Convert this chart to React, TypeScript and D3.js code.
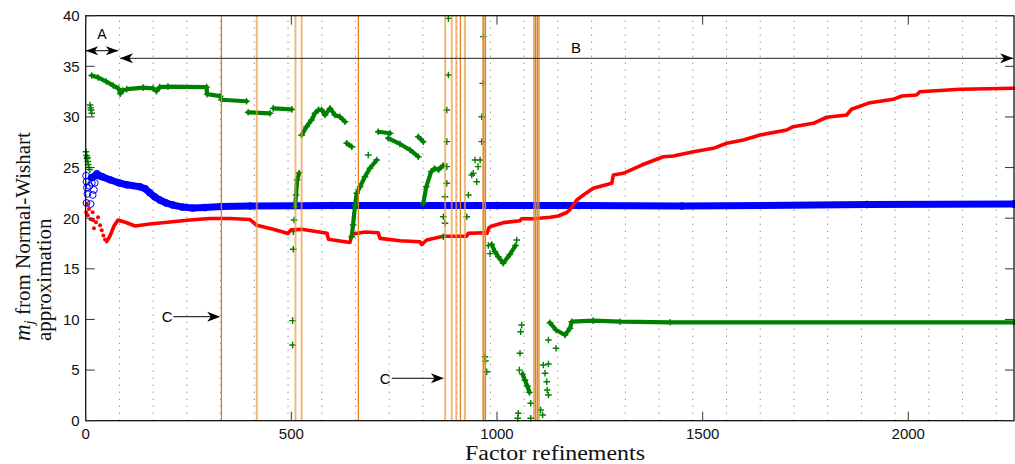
import React from 'react';
import * as d3 from 'd3';

type P = [number, number];

const xDomain: P = [0, 2257];
const yDomain: P = [0, 40];
const xTicks = [0, 500, 1000, 1500, 2000];
const yTicks = [0, 5, 10, 15, 20, 25, 30, 35, 40];
const gridStep = 82;

const blueBand: P[] = [[14,24.0],[27,24.3],[40,24.1],[59,23.8],[80,23.5],[100,23.3],[132,23.1],[145,22.9],[156,22.5],[168,22.1],[180,21.8],[196,21.5],[212,21.3],[235,21.1],[260,21.0],[290,21.05],[330,21.15],[400,21.2],[600,21.25],[1000,21.25],[1200,21.25],[1450,21.2],[1900,21.35],[2257,21.4]];
const blueScatter: P[] = [[1,24.2],[2,23.6],[3,23.0],[4,22.4],[2,21.5],[9,23.2],[12,21.4],[15,23.5],[17,22.3],[20,22.8],[22,23.5],[27,24.4],[33,24.2]];

const redLine: P[] = [[51,17.68],[59,18.24],[68.8,19.23],[78.5,19.82],[98,19.58],[120,19.23],[156,19.43],[205,19.62],[253,19.82],[302,19.97],[351,19.97],[399.5,19.87],[415.8,19.3],[456,18.9],[492,18.49],[499,18.86],[525,18.9],[587,18.51],[590,17.92],[642.6,17.6],[646.7,18.41],[679,18.64],[711,18.57],[715.5,18.01],[764,17.78],[812.8,17.68],[817,17.4],[829,17.85],[869.5,18.21],[926,18.21],[930,18.5],[967,18.57],[975.7,18.51],[980.6,19.08],[988,19.23],[1015.6,19.56],[1056,19.75],[1060,19.95],[1088,19.95],[1129,20.09],[1149,20.22],[1169.5,20.56],[1177.6,20.86],[1194,21.8],[1210,22.29],[1234,22.95],[1279,23.45],[1283,24.27],[1307,24.43],[1352,25.25],[1404,26.07],[1428.6,26.14],[1477.4,26.57],[1526,26.9],[1558.5,27.4],[1599,27.72],[1639.5,28.22],[1704,28.71],[1720,29.04],[1769,29.37],[1801.6,29.97],[1850,30.19],[1862,30.76],[1907,31.41],[1963.5,31.74],[1984,32.07],[2020,32.17],[2028,32.49],[2126,32.73],[2257,32.83]];
const redScatter: P[] = [[1,20.6],[3,21.4],[5,20.3],[8,20.9],[12,19.9],[17,20.6],[18,19.8],[20,19.0],[25,19.6],[30,20.1],[35,19.3],[39,18.8],[43,18.3],[47,17.9]];

const greenTop: P[] = [[14.6,34.1],[30,33.9],[50,33.5],[67,33.1],[80,32.8],[84,32.3],[90,32.6],[100,32.75],[140,32.9],[164,32.83],[172,32.55],[180,32.95],[200,33.0],[294,32.95],[295,32.25],[327,32.05],[330,31.7],[391,31.55]];
const greenSeg2: P[] = [[395,30.46],[448,30.36]];
const greenSeg3: P[] = [[456,30.85],[501,30.75]];
const greenRise1: P[] = [[509,21.13],[511.5,22.29],[514,23.77],[519,24.46]];
const greenArc1: P[] = [[525,28.2],[537,29.04],[549,29.7],[557.5,30.36],[566,30.7],[573.8,30.69],[581.8,30.19],[594,30.85],[606,30.19],[618,30.02],[630.6,29.53]];
const greenSeg4: P[] = [[634.6,27.4],[646.7,27.06]];
const greenRise2: P[] = [[646.7,18.17],[650,19.33],[655,21.3],[659,22.46],[667,23.11],[679,24.1],[691,24.93],[707.5,25.75]];
const greenTop2: P[] = [[711.4,28.54],[740,28.39]];
const greenDesc: P[] = [[735.7,27.89],[764,27.33],[788.6,26.74],[808.6,26.07]];
const greenSeg5: P[] = [[808.6,28.05],[820.8,27.56]];
const greenRise3: P[] = [[820.8,21.47],[828,23.1],[840,24.6],[848,24.9],[858,24.8],[869,25.2]];
const greenV: P[] = [[987,17.4],[995,16.7],[1003,16.2],[1015,15.55],[1031,16.4],[1045,17.3]];
const greenLowSeg: P[] = [[1062,4.6],[1068,4.0],[1074,3.4],[1079,2.8]];
const greenTail: P[] = [[1128.6,9.68],[1143.5,8.96],[1165.4,8.46],[1177.6,9.13],[1181.6,9.78],[1234,9.88],[1299,9.78],[1421,9.72],[2257,9.72]];
const greenSegments: P[][] = [greenTop, greenSeg2, greenSeg3, greenRise1, greenArc1, greenSeg4, greenRise2, greenTop2, greenDesc, greenSeg5, greenRise3, greenV, greenLowSeg, greenTail];
const greenScatter: P[] = [[0.7,26.57],[2,26.2],[3,25.9],[5,25.6],[6,25.3],[8,25.0],[10,24.8],[4,26.0],[10.5,31.18],[12,30.9],[13,30.69],[14.6,30.36],
  [503,7.48],[503,9.88],[504.8,16.93],[504.8,18.67],[506.5,19.82],[687,26.24],
  [869.5,20.15],[869.5,18.17],[873.6,22.12],[873.6,19.5],[878,30.69],[878,27.56],[878,23.45],[878,25.09],[881.8,34.14],[881.8,39.74],
  [926.6,20.15],[930.5,22.29],[938.5,24.27],[942.4,24.43],[950.7,23.6],[946.5,25.75],[954,25.09],[959,25.75],[963,27.56],[963,30.02],[965.3,33.32],[966.7,37.93],
  [970.8,6.32],[972,5.9],[975,4.84],[979,17.3],[983,16.5],[1048,17.85],
  [1060,9.45],[1057.6,8.79],[1056,6.66],[1054.3,5.0],[1051.8,0.73],[1050.3,0.24],[1082,0.24],[1082,1.72],[1106,1.06],[1111,0.56],[1112.6,5.5],[1116.7,4.68],[1121,3.85],[1122,3.03],[1125,2.54],[1125,5.6],[1125,7.97],[1143.5,7.15]];

const orangeDark = [330, 663, 911, 968, 972, 1090, 1094, 1098, 1102];
const orangeLight = [416, 510, 525, 874, 890, 901, 922, 966];

const annotA = { x0: 0, x1: 79.3, y: 36.54, label: 'A', lx: 39.6, ly: 37.7 };
const annotB = { x0: 83.4, x1: 2255, y: 35.79, label: 'B', lx: 1192, ly: 36.3 };
const annotC1 = { x0: 213, x1: 327, y: 10.27, label: 'C', lx: 198, ly: 9.76 };
const annotC2 = { x0: 744, x1: 871, y: 4.19, label: 'C', lx: 728, ly: 3.6 };

export default function App() {
  const x = d3.scaleLinear().domain(xDomain).range([85.7, 1014]);
  const y = d3.scaleLinear().domain(yDomain).range([420.7, 15.7]);
  const line = d3.line<P>().x(d => x(d[0])).y(d => y(d[1]));
  const [xl, xr] = x.range();
  const [yb, yt] = y.range();
  const grid = d3.range(gridStep, xDomain[1], gridStep);
  const sans = 'Liberation Sans, Arial, Helvetica, sans-serif';
  const serif = 'Liberation Serif, Times New Roman, serif';

  const head = (tx: number, ty: number, dir: number, L = 12.5, hw = 4.5) =>
    `M${tx},${ty}L${tx - dir * L},${ty - hw}L${tx - dir * 0.72 * L},${ty}L${tx - dir * L},${ty + hw}Z`;
  const plus = (px: number, py: number, s = 3.3) => `M${px - s},${py}H${px + s}M${px},${py - s}V${py + s}`;

  return (
    <svg width={1015} height={464} style={{ position: 'absolute', left: 0, top: 0, background: '#fff' }}>
      <rect x={0} y={0} width={1015} height={464} fill="#fff" />
      {grid.map(g => (
        <line key={'g' + g} x1={x(g)} x2={x(g)} y1={yb} y2={yt} stroke="#666" strokeWidth={1} strokeDasharray="1 6" />
      ))}
      {/* blue */}
      <path d={line(blueBand) || ''} fill="none" stroke="#0000ff" strokeWidth={7} strokeLinejoin="round" strokeLinecap="round" />
      {blueBand.map((d, i) => (
        <circle key={'bb' + i} cx={x(d[0])} cy={y(d[1])} r={3.4} fill="none" stroke="#0000ff" strokeWidth={1} />
      ))}
      {blueScatter.map((d, i) => (
        <circle key={'bs' + i} cx={x(d[0])} cy={y(d[1])} r={3.4} fill="none" stroke="#0000ff" strokeWidth={1} />
      ))}
      {/* red */}
      <path d={line(redLine) || ''} fill="none" stroke="#ff0000" strokeWidth={3.6} strokeLinejoin="round" strokeLinecap="round" />
      {redScatter.map((d, i) => (
        <circle key={'rs' + i} cx={x(d[0])} cy={y(d[1])} r={2} fill="#ff0000" />
      ))}
      {/* green */}
      {greenSegments.map((s, i) => (
        <path key={'gs' + i} d={line(s) || ''} fill="none" stroke="#008000" strokeWidth={4.2} strokeLinejoin="round" strokeLinecap="round" />
      ))}
      {greenSegments.flat().map((d, i) => (
        <path key={'gp' + i} d={plus(x(d[0]), y(d[1]))} stroke="#008000" strokeWidth={1.4} />
      ))}
      {greenScatter.map((d, i) => (
        <path key={'gc' + i} d={plus(x(d[0]), y(d[1]))} stroke="#008000" strokeWidth={1.4} />
      ))}
      {/* orange lines */}
      {orangeLight.map(v => (
        <line key={'ol' + v} x1={x(v)} x2={x(v)} y1={yb} y2={yt} stroke="#eb9a45" strokeOpacity={0.7} strokeWidth={2} />
      ))}
      {orangeDark.map(v => (
        <line key={'od' + v} x1={x(v)} x2={x(v)} y1={yb} y2={yt} stroke="#dc8320" strokeWidth={1.3} />
      ))}
      {/* axes box */}
      <rect x={xl} y={yt} width={xr - xl} height={yb - yt} fill="none" stroke="#000" strokeWidth={1.2} />
      {xTicks.map(t => (
        <g key={'xt' + t}>
          <line x1={x(t)} x2={x(t)} y1={yb} y2={yb - 9} stroke="#333" />
          <line x1={x(t)} x2={x(t)} y1={yt} y2={yt + 9} stroke="#333" />
          <text x={x(t)} y={yb + 18} textAnchor="middle" fontFamily={sans} fontSize={15} fill="#111">{t}</text>
        </g>
      ))}
      {yTicks.map(t => (
        <g key={'yt' + t}>
          <line x1={xl} x2={xl + 9} y1={y(t)} y2={y(t)} stroke="#333" />
          <line x1={xr} x2={xr - 9} y1={y(t)} y2={y(t)} stroke="#333" />
          <text x={xl - 6} y={y(t) + 5.3} textAnchor="end" fontFamily={sans} fontSize={15} fill="#111">{t}</text>
        </g>
      ))}
      {/* annotations */}
      <line x1={x(annotA.x0)} x2={x(annotA.x1)} y1={y(annotA.y)} y2={y(annotA.y)} stroke="#000" strokeWidth={1} />
      <path d={head(x(annotA.x0), y(annotA.y), -1)} fill="#000" />
      <path d={head(x(annotA.x1), y(annotA.y), 1)} fill="#000" />
      <text x={x(annotA.lx)} y={y(annotA.ly)} textAnchor="middle" fontFamily={sans} fontSize={14}>{annotA.label}</text>

      <line x1={x(annotB.x0)} x2={x(annotB.x1)} y1={y(annotB.y)} y2={y(annotB.y)} stroke="#222" strokeWidth={1} />
      <path d={head(x(annotB.x0), y(annotB.y), -1, 13, 5)} fill="#000" />
      <path d={head(x(annotB.x1), y(annotB.y), 1, 13, 5)} fill="#000" />
      <text x={x(annotB.lx)} y={y(annotB.ly)} textAnchor="middle" fontFamily={sans} fontSize={15}>{annotB.label}</text>

      {[annotC1, annotC2].map((a, i) => (
        <g key={'c' + i}>
          <line x1={x(a.x0)} x2={x(a.x1) - 8} y1={y(a.y)} y2={y(a.y)} stroke="#000" strokeWidth={1} />
          <path d={head(x(a.x1), y(a.y), 1, 13, 5)} fill="#000" />
          <text x={x(a.lx)} y={y(a.ly)} textAnchor="middle" fontFamily={sans} fontSize={15}>{a.label}</text>
        </g>
      ))}
      {/* titles */}
      <text x={555} y={460} textAnchor="middle" fontFamily={serif} fontSize={20} textLength={180} lengthAdjust="spacingAndGlyphs" fill="#111">Factor refinements</text>
      <text transform="translate(30,341) rotate(-90)" fontFamily={serif} fontSize={21} fill="#111">
        <tspan fontStyle="italic" fontSize={23}>m</tspan>
        <tspan fontStyle="italic" fontSize={15} dy={4}>j</tspan>
        <tspan dy={-4}> from Normal-Wishart</tspan>
      </text>
      <text transform="translate(51,341) rotate(-90)" fontFamily={serif} fontSize={21} fill="#111">approximation</text>
    </svg>
  );
}
